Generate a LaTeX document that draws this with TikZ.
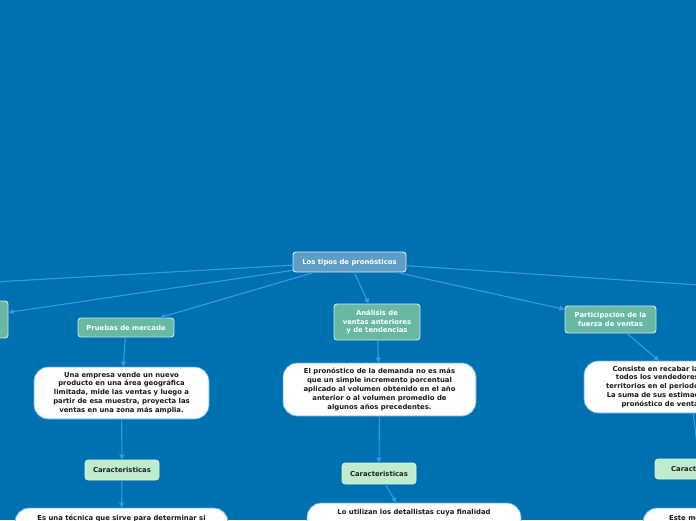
\documentclass[tikz,border=0pt]{standalone}
\usepackage{fontspec}
\setmainfont{DejaVu Sans}
\usetikzlibrary{arrows.meta}
\definecolor{bgblue}{RGB}{0,113,176}
\definecolor{centralfill}{RGB}{94,158,198}
\definecolor{topicfill}{RGB}{104,184,164}
\definecolor{mintfill}{RGB}{192,236,206}
\definecolor{conncol}{RGB}{58,152,226}
\definecolor{wborder}{RGB}{90,170,230}
\tikzset{
 every node/.style={font=\fontsize{6.85}{8.9}\selectfont\bfseries},
 centralbox/.style={draw=white!80!centralfill, line width=0.9pt, fill=centralfill, text=white, rounded corners=3pt, inner sep=1pt},
 topicbox/.style={draw=white!70!topicfill, line width=0.9pt, fill=topicfill, text=white, rounded corners=3pt, inner sep=1pt, align=center},
 featbox/.style={draw=white!40!mintfill, line width=0.6pt, fill=mintfill, text=black!88, rounded corners=3pt, inner sep=1pt},
 notebox/.style={draw=wborder, line width=0.8pt, fill=white, text=black!90, rounded corners=14pt, inner sep=1pt, align=center},
 notetext/.style={text=black!90, inner sep=0pt},
 link/.style={draw=conncol, line width=1.1pt, -{Triangle[length=5pt,width=5pt]}},
}
\begin{document}
\begin{tikzpicture}[x=1pt,y=-1pt]
\useasboundingbox (0,0) rectangle (696,520);
\clip (0,0) rectangle (696,520);
\fill[bgblue] (0,0) rectangle (696,520);

% main node
\node[centralbox, minimum width=113pt, minimum height=20pt] (central) at (349.5,262) {Los tipos de pronósticos};

% off-canvas ends
\coordinate (offL) at (-60,285);
\coordinate (offR) at (760,289);

% topic nodes
\node[topicbox, minimum width=96pt, minimum height=37pt] (leftnode) at (-40,319.5) {};
\node[topicbox, minimum width=96pt, minimum height=19pt] (pruebas) at (126,327.5) {Pruebas de mercado};
\node[topicbox, minimum width=86pt, minimum height=36pt] (analisis) at (377,322) {Análisis de\\ventas anteriores\\y de tendencias};
\node[topicbox, minimum width=91pt, minimum height=27pt] (particip) at (610.5,319.5) {Participación de la\\fuerza de ventas};

% description boxes
\node[notebox, minimum width=175pt, minimum height=52pt] (box1) at (121.5,393) {Una empresa vende un nuevo\\producto en una área geográfica\\limitada, mide las ventas y luego a\\partir de esa muestra, proyecta las\\ventas en una zona más amplia.};
\node[notebox, minimum width=193pt, minimum height=53pt] (box2) at (379.5,389.5) {El pronóstico de la demanda no es más\\que un simple incremento porcentual\\aplicado al volumen obtenido en el año\\anterior o al volumen promedio de\\algunos años precedentes.};
\node[notebox, minimum width=212pt, minimum height=52pt] (rbox) at (690,387) {};
\node[notetext, anchor=east, align=right] (rtext) at (699,387) {Consiste en recabar la\\todos los vendedores\\territorios en el periodo\\La suma de sus estimac\\pronóstico de venta};

% feature nodes
\node[featbox, minimum width=74pt, minimum height=20pt] (feat1) at (122,470) {Caracteristicas};
\node[featbox, minimum width=74pt, minimum height=21pt] (feat2) at (379,473.5) {Caracteristicas};
\node[featbox, minimum width=90pt, minimum height=20pt] (feat3) at (700,469) {Caracteristicas};

% bottom boxes
\node[notebox, minimum width=213pt, minimum height=60pt] (box4) at (121.5,538) {};
\node[notetext] (text4) at (121.5,518) {Es una técnica que sirve para determinar si};
\node[notebox, minimum width=214pt, minimum height=60pt] (box5) at (414,533) {};
\node[notetext] (text5) at (414,513) {Lo utilizan los detallistas cuya finalidad};
\node[notebox, minimum width=200pt, minimum height=60pt] (box6) at (743,538) {};
\node[notetext, anchor=west] (text6) at (669,518) {Este método};

% connectors
\draw[link] (central) -- (offL);
\draw[link] (central) -- (offR);
\draw[link] (central) -- (leftnode);
\draw[link] (central) -- (pruebas);
\draw[link] (central) -- (analisis);
\draw[link] (central) -- (particip);
\draw[link] (pruebas) -- (box1);
\draw[link] (analisis) -- (box2);
\draw[link] (particip) -- (rbox);
\draw[link] (box1) -- (feat1);
\draw[link] (box2) -- (feat2);
\draw[link] (rbox) -- (feat3);
\draw[link] (feat1) -- (box4);
\draw[link] (feat2) -- (box5);
\draw[link] (feat3) -- (box6);
\end{tikzpicture}
\end{document}
